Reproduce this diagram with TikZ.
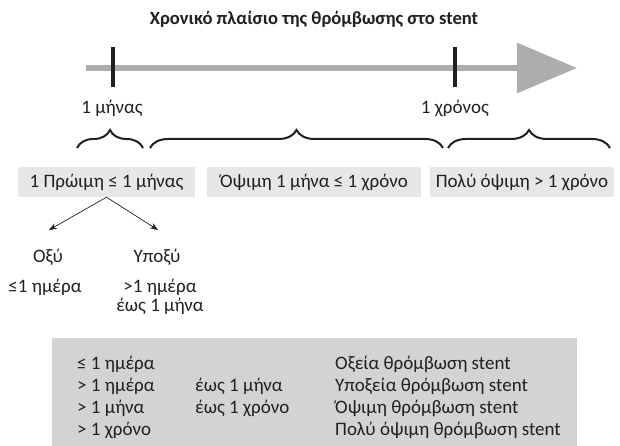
\documentclass[tikz,border=0pt]{standalone}
\usepackage{fontspec}
\setmainfont{Carlito}
\usetikzlibrary{decorations.pathreplacing,arrows.meta}
\definecolor{ink}{HTML}{231F20}
\definecolor{axisgray}{HTML}{ADADAD}
\definecolor{boxgray}{HTML}{E6E7E8}
\definecolor{tablegray}{HTML}{D1D3D4}
\begin{document}
\begin{tikzpicture}[x=1pt,y=-1pt,
  txt/.style={font=\fontsize{19}{22}\selectfont, text=ink, inner sep=0pt},
  ttl/.style={font=\bfseries\fontsize{18.6}{21}\selectfont, text=ink, inner sep=0pt},
  period/.style={txt, fill=boxgray, minimum height=30pt},
  curly/.style={decorate, decoration={brace, amplitude=18pt}, line width=2pt, draw=ink},
  tick/.style={line width=3.5pt, draw=ink},
  branch/.style={line width=0.7pt, draw=ink, -{Stealth[length=8pt,width=6pt]}},
  row/.style={txt, anchor=west}
]
\useasboundingbox (0,0) rectangle (620,446);

% title
\node[ttl] (title) at (314,19) {Χρονικό πλαίσιο της θρόμβωσης στο stent};

% timeline
\coordinate (tstart) at (86,68);
\coordinate (tend) at (577,68);
\draw[line width=6pt, draw=axisgray, -{Triangle[length=60pt,width=49pt]}] (tstart) -- (tend);
\coordinate (m1a) at (113,47); \coordinate (m1b) at (113,87);
\coordinate (y1a) at (455,47); \coordinate (y1b) at (455,87);
\draw[tick] (m1a) -- (m1b);
\draw[tick] (y1a) -- (y1b);
\node[txt] (lm) at (112,108) {1 μήνας};
\node[txt] (ly) at (455,108) {1 χρόνος};

% braces
\coordinate (b1l) at (77,148);  \coordinate (b1r) at (143,148);
\coordinate (b2l) at (150,148); \coordinate (b2r) at (443,148);
\coordinate (b3l) at (448,148); \coordinate (b3r) at (610,148);
\draw[curly] (b1l) -- (b1r);
\draw[curly] (b2l) -- (b2r);
\draw[curly] (b3l) -- (b3r);

% period boxes
\node[period, minimum width=177pt] (early) at (106.5,182) {1 Πρώιμη ≤ 1 μήνας};
\node[period, minimum width=214pt] (late) at (314,182) {Όψιμη 1 μήνα ≤ 1 χρόνο};
\node[period, minimum width=184pt] (vlate) at (522,182) {Πολύ όψιμη > 1 χρόνο};

% branches
\coordinate (el) at (49,230);
\coordinate (er) at (158,230);
\draw[branch] (early.south) -- (el);
\draw[branch] (early.south) -- (er);
\node[txt] (acute) at (48,257) {Οξύ};
\node[txt] (subacute) at (157,257) {Υποξύ};
\node[txt] (acd) at (45,287) {≤1 ημέρα};
\node[txt] (sad) at (160,287) {>1 ημέρα};
\node[txt] (sad2) at (160,306) {έως 1 μήνα};

% table
\node[fill=tablegray, minimum width=525pt, minimum height=108pt, inner sep=0pt, anchor=north east] (table) at (577,338) {};
\node[row] (r1a) at (77,364) {≤ 1 ημέρα};
\node[row] (r2a) at (77,386) {> 1 ημέρα};
\node[row] (r3a) at (77,408) {> 1 μήνα};
\node[row] (r4a) at (77,430) {> 1 χρόνο};
\node[row] (r2b) at (195,386) {έως 1 μήνα};
\node[row] (r3b) at (195,408) {έως 1 χρόνο};
\node[row] (r1c) at (335,364) {Οξεία θρόμβωση stent};
\node[row] (r2c) at (335,386) {Υποξεία θρόμβωση stent};
\node[row] (r3c) at (335,408) {Όψιμη θρόμβωση stent};
\node[row] (r4c) at (335,430) {Πολύ όψιμη θρόμβωση stent};
\end{tikzpicture}
\end{document}
